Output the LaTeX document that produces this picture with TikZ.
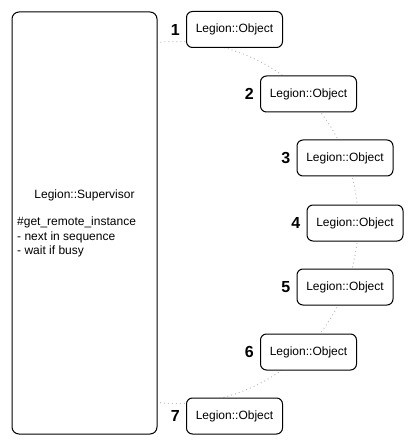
\documentclass[tikz,border=0pt]{standalone}
\usepackage{fontspec}
\setmainfont{Liberation Sans}
\begin{document}
\begin{tikzpicture}[x=1pt,y=-1pt,
  objbox/.style={draw=black, fill=white, line width=1pt, rounded corners=6pt,
    minimum width=96pt, minimum height=36pt, inner sep=0pt,
    font=\fontsize{12}{14}\selectfont},
  supbox/.style={draw=black, fill=white, line width=1pt, rounded corners=7pt,
    minimum width=145pt, minimum height=422pt, inner sep=0pt},
  numlbl/.style={inner sep=0pt, anchor=east, font=\fontsize{16}{18}\selectfont\bfseries},
  ring/.style={draw=black!25, line width=1pt, dash pattern=on 1pt off 3pt},
  suptext/.style={inner sep=0pt, font=\fontsize{12}{14.5}\selectfont}
]
\useasboundingbox (0,0) rectangle (415,446);
% dotted ring behind the boxes, only right of the supervisor
\coordinate (ringc) at (177,222.5);
\begin{scope}
  \clip (157,0) rectangle (415,446);
  \draw[ring] (ringc) circle[radius=181pt];
\end{scope}
% supervisor
\node[supbox] (sup) at (84.5,223) {};
\node[suptext] (suptitle) at (84.5,195) {Legion::Supervisor};
\node[suptext, align=left, anchor=west] (supbody) at (17,237)
  {\#get\_remote\_instance\\- next in sequence\\- wait if busy};
% objects
\node[objbox] (o1) at (234.5,29.5) {Legion::Object};
\node[objbox] (o2) at (308.5,94) {Legion::Object};
\node[objbox] (o3) at (345,158) {Legion::Object};
\node[objbox] (o4) at (355,223) {Legion::Object};
\node[objbox] (o5) at (345,287) {Legion::Object};
\node[objbox] (o6) at (308.5,352) {Legion::Object};
\node[objbox] (o7) at (234.5,416) {Legion::Object};
% numbers
\foreach \i in {1,...,7}
  \node[numlbl] (n\i) at ([xshift=-6pt]o\i.west) {\i};
\end{tikzpicture}
\end{document}
